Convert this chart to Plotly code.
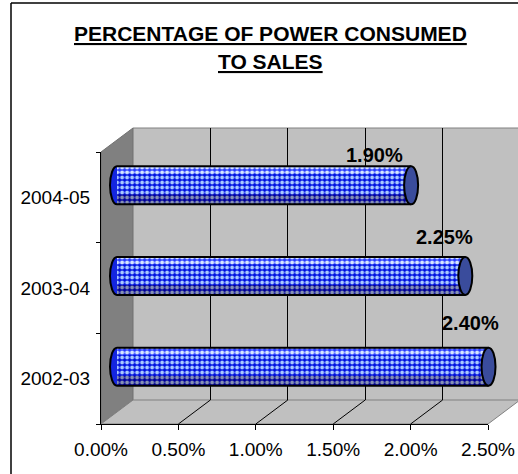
import plotly.graph_objects as go

# ---------------- data ----------------
categories = ["2002-03", "2003-04", "2004-05"]
values = [0.0240, 0.0225, 0.0190]
x_ticks = [0.0, 0.005, 0.010, 0.015, 0.020, 0.025]
title_lines = ["PERCENTAGE OF POWER CONSUMED", "TO SALES"]

# ---------------- layout geometry (pixels) ----------------
W, H = 518, 474
def px(x): return x / W
def py(y): return 1 - y / H

FX0, FX1 = 101, 488          # front plane: 0% and 2.5%
FTOP, FBOT = 152, 424        # front plane top / bottom
DX, DY = 32, 24              # depth offset
XMAX = 0.025
XNEG = 0.0008                # room left of zero for the rounded bar ends
PPU = (FX1 - FX0) / XMAX     # pixels per data unit
FONT = "Liberation Sans, Arial, sans-serif"

fig = go.Figure()

fig.add_trace(go.Scatter(x=[None], y=[None], xaxis="x", yaxis="y",
                         showlegend=False, hoverinfo="skip"))
fig.add_trace(go.Scatter(x=[None], y=[None], xaxis="x2", yaxis="y2",
                         showlegend=False, hoverinfo="skip"))

idx = list(range(len(categories)))
HALF = 0.21

def bar_layer(offset, width, bg, fg, sol):
    return go.Bar(x=values, y=idx, orientation="h", xaxis="x3", yaxis="y3",
                  base=0, offset=offset, width=width, showlegend=False,
                  hoverinfo="skip",
                  marker=dict(color=bg, line=dict(width=0),
                              pattern=dict(shape=".", bgcolor=bg, fgcolor=fg,
                                           size=5, solidity=sol, fillmode="replace")))

fig.add_trace(bar_layer(-HALF, 2 * HALF, "#0010E0", "#A8C8FF", 0.5))
fig.add_trace(bar_layer(-HALF, 0.11, "#00009A", "#8490B4", 0.5))
fig.add_trace(bar_layer(0.13, 0.07, "#2A3CFF", "#D6E6FF", 0.55))

shapes = []
shapes.append(dict(type="rect", xref="paper", yref="paper", layer="below",
                   x0=px(FX0 + DX), x1=px(W), y0=py(FBOT - DY), y1=py(FTOP - DY),
                   fillcolor="#C0C0C0", line=dict(width=0)))
shapes.append(dict(type="line", xref="paper", yref="paper", layer="below",
                   x0=px(FX0 + DX), x1=px(W), y0=py(FTOP - DY), y1=py(FTOP - DY),
                   line=dict(color="#808080", width=1)))
lw = "M {} {} L {} {} L {} {} L {} {} Z".format(
    px(FX0), py(FTOP), px(FX0 + DX), py(FTOP - DY),
    px(FX0 + DX), py(FBOT - DY), px(FX0), py(FBOT))
shapes.append(dict(type="path", xref="paper", yref="paper", layer="below", path=lw,
                   fillcolor="#808080", line=dict(color="#707070", width=1)))
fl = "M {} {} L {} {} L {} {} L {} {} Z".format(
    px(FX0), py(FBOT), px(FX0 + DX), py(FBOT - DY),
    px(FX1 + DX), py(FBOT - DY), px(FX1), py(FBOT))
shapes.append(dict(type="path", xref="paper", yref="paper", layer="below", path=fl,
                   fillcolor="#C0C0C0", line=dict(color="#808080", width=1)))
for t in x_ticks[1:-1]:
    xf = FX0 + t * PPU
    shapes.append(dict(type="line", xref="paper", yref="paper", layer="below",
                       x0=px(xf), y0=py(FBOT), x1=px(xf + DX), y1=py(FBOT - DY),
                       line=dict(color="black", width=1)))

A = 7 / PPU
K = 0.5523
for i, v in zip(idx, values):
    top, bot = i + HALF, i - HALF
    bulge = ("M 0 {t} C {a1} {t} {a} {m1} {a} {i} C {a} {m2} {a1} {b} 0 {b} Z").format(
        t=top, b=bot, i=i, a=-A, a1=-K * A, m1=i + K * HALF, m2=i - K * HALF)
    shapes.append(dict(type="path", xref="x3", yref="y3", layer="above", path=bulge,
                       fillcolor="#1426E0", line=dict(width=0)))
    outline = ("M {v} {t} L 0 {t} C {a1} {t} {a} {m1} {a} {i} "
               "C {a} {m2} {a1} {b} 0 {b} L {v} {b}").format(
        v=v, t=top, b=bot, i=i, a=-A, a1=-K * A, m1=i + K * HALF, m2=i - K * HALF)
    shapes.append(dict(type="path", xref="x3", yref="y3", layer="above", path=outline,
                       fillcolor="rgba(0,0,0,0)", line=dict(color="black", width=2)))
    shapes.append(dict(type="circle", xref="x3", yref="y3", layer="above",
                       x0=v - A, x1=v + A, y0=bot, y1=top,
                       fillcolor="#3A4C9C", line=dict(color="black", width=2)))

shapes.append(dict(type="line", xref="paper", yref="paper", layer="above",
                   x0=px(11), x1=px(11), y0=0, y1=py(3),
                   line=dict(color="black", width=1.5)))
shapes.append(dict(type="line", xref="paper", yref="paper", layer="above",
                   x0=px(11), x1=1, y0=py(3), y1=py(3),
                   line=dict(color="black", width=1.5)))

annotations = []
label_dx = [-18, -21, -37]
label_dy = [44, 39, 30]
for i, v in zip(idx, values):
    annotations.append(dict(xref="x3", yref="y3", x=v, y=i, text="<b>{:.2f}%</b>".format(v * 100),
                            showarrow=False, xanchor="center", yanchor="middle",
                            xshift=label_dx[i], yshift=label_dy[i],
                            font=dict(family=FONT, size=20, color="black")))
for line, yc in zip(title_lines, [33, 62]):
    annotations.append(dict(xref="paper", yref="paper", x=px(270), y=py(yc),
                            text="<b><u>{}</u></b>".format(line), showarrow=False,
                            xanchor="center", yanchor="middle",
                            font=dict(family=FONT, size=21, color="black")))

fig.update_layout(
    width=W, height=H, autosize=False,
    margin=dict(l=0, r=0, t=0, b=0, pad=0, autoexpand=False),
    paper_bgcolor="white", plot_bgcolor="rgba(0,0,0,0)",
    showlegend=False, barmode="overlay",
    xaxis=dict(domain=[px(FX0), px(FX1)], range=[0, XMAX], anchor="y", automargin=False,
               tickmode="array", tickvals=x_ticks, tickformat=".2%",
               ticks="outside", ticklen=5, tickcolor="black", tickwidth=1,
               showline=True, linecolor="black", linewidth=1,
               showgrid=False, zeroline=False, ticklabelstandoff=3,
               tickfont=dict(family=FONT, size=19, color="black")),
    yaxis=dict(domain=[py(FBOT), py(FTOP)], range=[-0.5, len(categories) - 0.5], anchor="x",
               automargin=False,
               tickmode="array", tickvals=idx, ticktext=categories, ticks="",
               showline=True, linecolor="black", linewidth=1,
               showgrid=False, zeroline=False, ticklabelstandoff=6,
               minor=dict(tickmode="linear", tick0=-0.5, dtick=1, ticks="outside",
                          ticklen=4, tickcolor="black", showgrid=False),
               tickfont=dict(family=FONT, size=19, color="black")),
    xaxis2=dict(domain=[px(FX0 + DX), 1.0], automargin=False,
                range=[0, XMAX * (W - FX0 - DX) / (FX1 - FX0)], anchor="y2",
                tickmode="array", tickvals=x_ticks[1:-1], showticklabels=False,
                ticks="", showgrid=True, gridcolor="black", gridwidth=1,
                zeroline=False, showline=False),
    yaxis2=dict(domain=[py(FBOT - DY), py(FTOP - DY)], range=[0, 1], anchor="x2",
                visible=False, showgrid=False, automargin=False),
    xaxis3=dict(domain=[px(FX0 + DX / 2 - XNEG * PPU), px(FX1 + DX / 2)],
                range=[-XNEG, XMAX], anchor="y3",
                visible=False, showgrid=False, zeroline=False, automargin=False),
    yaxis3=dict(domain=[py(FBOT - DY / 2), py(FTOP - DY / 2)],
                range=[-0.5, len(categories) - 0.5], anchor="x3",
                visible=False, showgrid=False, zeroline=False, automargin=False),
    shapes=shapes, annotations=annotations,
)

fig.write_html("out.html")
